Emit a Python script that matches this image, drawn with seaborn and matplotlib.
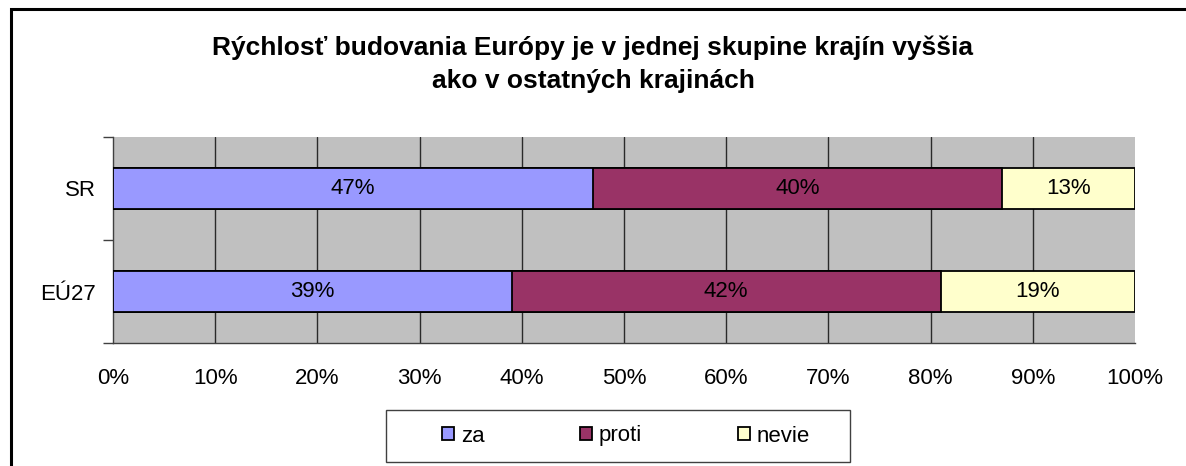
import matplotlib
matplotlib.use("Agg")
import matplotlib.pyplot as plt
import matplotlib.patches as mpatches
import seaborn as sns
import pandas as pd
import numpy as np

# Data
regions = ["SR", "EÚ27"]
za = [47, 39]
proti = [40, 42]
nevie = [13, 19]
series_names = ["za", "proti", "nevie"]
colors = ["#9999FF", "#993366", "#FFFFCC"]
title = "Rýchlosť budovania Európy je v jednej skupine krajín vyššia\nako v ostatných krajinách"

sns.set_theme(style="white")
plt.rcParams["font.family"] = ["Liberation Sans", "DejaVu Sans"]
plt.rcParams["text.color"] = "black"
plt.rcParams["xtick.color"] = "black"
plt.rcParams["ytick.color"] = "black"

W, H = 1186, 466
fig = plt.figure(figsize=(W / 100, H / 100), dpi=100)
ax = fig.add_axes([113 / W, 1 - 343 / H, (1135 - 113) / W, (343 - 137) / H])
ax.set_facecolor("#C0C0C0")

values = np.array([za, proti, nevie], dtype=float)
cum = np.cumsum(values, axis=0)

# Stacked bars: draw cumulative totals from the largest down
for i in range(len(series_names) - 1, -1, -1):
    df = pd.DataFrame({"region": regions, "value": cum[i]})
    sns.barplot(data=df, x="value", y="region", orient="h", color=colors[i],
                width=0.4, edgecolor="black", linewidth=1.3, saturation=1,
                ax=ax, zorder=3)

# Value labels centered in each segment
for i in range(len(series_names)):
    for j, reg in enumerate(regions):
        start = cum[i][j] - values[i][j]
        ax.text(start + values[i][j] / 2, j, f"{int(values[i][j])}%",
                ha="center", va="center", fontsize=16, color="black", zorder=4)

ax.set_xlim(0, 100)
ax.set_ylim(1.5, -0.5)
ax.set_xticks(np.arange(0, 101, 10))
ax.set_xticklabels([f"{t}%" for t in range(0, 101, 10)], fontsize=16)
ax.set_yticks([0, 1])
ax.set_yticklabels(regions, fontsize=16)
ax.set_xlabel("")
ax.set_ylabel("")

# Vertical gridlines
for xv in range(10, 100, 10):
    ax.axvline(xv, color="#2a2a2a", linewidth=1.0, zorder=1)

# Spines and ticks
for s in ["top", "right"]:
    ax.spines[s].set_visible(False)
for s in ["left", "bottom"]:
    ax.spines[s].set_color("#404040")
    ax.spines[s].set_linewidth(1.0)

ax.tick_params(axis="y", which="major", length=0, pad=12)
ax.tick_params(axis="x", which="major", length=0, pad=18)
# Tick marks at category boundaries and below the x axis
ax.set_yticks([-0.5, 0.5, 1.5], minor=True)
ax.tick_params(axis="y", which="minor", left=True, length=7, width=1,
               color="#404040", direction="out")
ax.set_xticks(np.arange(0, 101, 10), minor=True)
ax.tick_params(axis="x", which="minor", bottom=True, length=7, width=1,
               color="#404040", direction="out")

fig.text(593 / W, 1 - 64 / H, title, ha="center", va="center",
         fontsize=19, fontweight="bold", linespacing=1.5, color="black")

# Legend entries and their surrounding box
handles = [mpatches.Patch(facecolor=c, edgecolor="black", linewidth=1.3, label=n)
           for c, n in zip(colors, series_names)]
leg = fig.legend(handles=handles, loc="center", ncol=3,
                 bbox_to_anchor=(626 / W, 1 - 436 / H),
                 frameon=False, fontsize=16, handlelength=0.55, handleheight=0.55,
                 handletextpad=0.3, columnspacing=4.3, borderpad=0.0)
legend_box = mpatches.Rectangle((386 / W, 1 - 462 / H), (850 - 386) / W, 52 / H,
                                transform=fig.transFigure, fill=True,
                                facecolor="white", edgecolor="#404040",
                                linewidth=1.0, zorder=0)
fig.patches.append(legend_box)

# Outer chart border
border = mpatches.Rectangle((11 / W, -0.1), 1.2, 1 - 9 / H + 0.1,
                            transform=fig.transFigure, fill=False,
                            edgecolor="black", linewidth=2.2)
fig.patches.append(border)

fig.savefig("out.png", dpi=100)
